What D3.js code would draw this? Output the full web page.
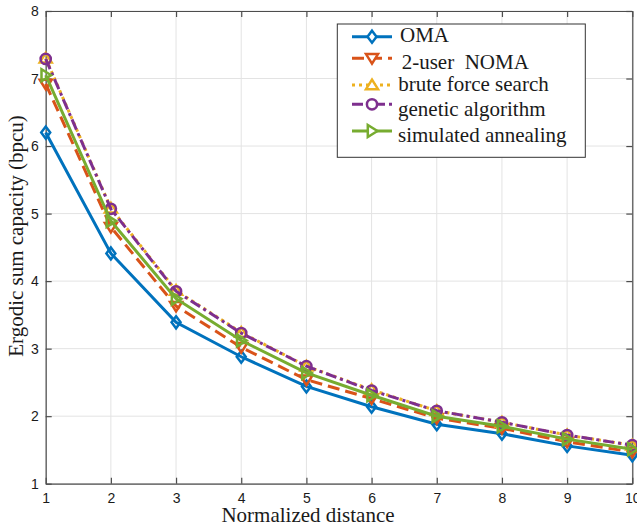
<!DOCTYPE html>
<html>
<head>
<meta charset="utf-8">
<script src="https://cdnjs.cloudflare.com/ajax/libs/d3/7.8.5/d3.min.js"></script>
<style>
  body { margin: 0; background: #fff; }
  svg { display: block; }
</style>
</head>
<body>
<div id="chart"></div>
<script>
// x values (normalized distance)
var distance = [1, 2, 3, 4, 5, 6, 7, 8, 9, 10];

// ergodic sum capacity, bpcu
var oma   = [6.20, 4.41, 3.39, 2.88, 2.44, 2.14, 1.88, 1.74, 1.56, 1.42];
var noma  = [6.92, 4.80, 3.63, 3.02, 2.54, 2.26, 1.97, 1.82, 1.62, 1.47];
var brute = [7.30, 5.08, 3.86, 3.24, 2.74, 2.39, 2.08, 1.91, 1.72, 1.57];
var ga    = [7.29, 5.07, 3.85, 3.23, 2.74, 2.38, 2.08, 1.91, 1.72, 1.57];
var sa    = [7.05, 4.89, 3.74, 3.12, 2.64, 2.31, 2.00, 1.85, 1.66, 1.51];

var names = ["OMA", "2-user  NOMA", "brute force search", "genetic algorithm", "simulated annealing"];
var xTicks = [1, 2, 3, 4, 5, 6, 7, 8, 9, 10];
var yTicks = [1, 2, 3, 4, 5, 6, 7, 8];

// matlab default colours + styles
var series = [
  {name: names[0], values: oma,   color: "#0072BD", dash: null,         marker: "diamond"},
  {name: names[1], values: noma,  color: "#D95319", dash: "12,6",       marker: "down"},
  {name: names[2], values: brute, color: "#EDB120", dash: "3,4",        marker: "up"},
  {name: names[3], values: ga,    color: "#7E2F8E", dash: "11,4,3,4",   marker: "circle"},
  {name: names[4], values: sa,    color: "#77AC30", dash: null,         marker: "right"}
];

var W = 637, H = 527;
// plot box edges (don't call these top/left, window.top is read only)
var pL = 45.7, pR = 632.3, pT = 11, pB = 483.7;

var svg = d3.select("#chart").append("svg")
  .attr("width", W)
  .attr("height", H);

var x = d3.scaleLinear().domain([1, 10]).range([pL, pR]);
var y = d3.scaleLinear().domain([1, 8]).range([pB, pT]);

// grid
svg.append("g").selectAll("line").data(xTicks).enter().append("line")
  .attr("x1", d => x(d)).attr("x2", d => x(d))
  .attr("y1", pT).attr("y2", pB)
  .attr("stroke", "#e3e3e3").attr("stroke-width", 1);
svg.append("g").selectAll("line").data(yTicks).enter().append("line")
  .attr("x1", pL).attr("x2", pR)
  .attr("y1", d => y(d)).attr("y2", d => y(d))
  .attr("stroke", "#e3e3e3").attr("stroke-width", 1);

// axes, ticks point inward like matlab
var fmt = d3.format("d");
var xAxis = svg.append("g")
  .attr("transform", "translate(0," + pB + ")")
  .call(d3.axisBottom(x).tickValues(xTicks).tickFormat(fmt).tickSizeInner(-6).tickSizeOuter(0).tickPadding(9));
var xTop = svg.append("g")
  .attr("transform", "translate(0," + pT + ")")
  .call(d3.axisTop(x).tickValues(xTicks).tickSizeInner(-6).tickSizeOuter(0).tickFormat(""));
var yAxis = svg.append("g")
  .attr("transform", "translate(" + pL + ",0)")
  .call(d3.axisLeft(y).tickValues(yTicks).tickFormat(fmt).tickSizeInner(-6).tickSizeOuter(0).tickPadding(7));
var yRight = svg.append("g")
  .attr("transform", "translate(" + pR + ",0)")
  .call(d3.axisRight(y).tickValues(yTicks).tickSizeInner(-6).tickSizeOuter(0).tickFormat(""));

[xAxis, xTop, yAxis, yRight].forEach(function(g) {
  g.select(".domain").attr("stroke", "#4d4d4d").attr("stroke-width", 1.2);
  g.selectAll(".tick line").attr("stroke", "#4d4d4d").attr("stroke-width", 1.2);
  g.selectAll("text")
    .attr("font-family", "'Liberation Sans', Arial, sans-serif")
    .attr("font-size", 14)
    .attr("fill", "#1a1a1a");
});

// marker shapes, centred on 0,0
function markerPath(type, s) {
  if (type == "diamond") return "M0," + (-s) + "L" + (s*0.75) + ",0L0," + s + "L" + (-s*0.75) + ",0Z";
  if (type == "down") return "M" + (-s) + "," + (-s*0.7) + "L" + s + "," + (-s*0.7) + "L0," + (s*0.9) + "Z";
  if (type == "up") return "M" + (-s) + "," + (s*0.7) + "L" + s + "," + (s*0.7) + "L0," + (-s*0.9) + "Z";
  if (type == "right") return "M" + (-s*0.7) + "," + (-s) + "L" + (-s*0.7) + "," + s + "L" + (s*0.9) + ",0Z";
  return d3.arc()({innerRadius: 0, outerRadius: s*0.85, startAngle: 0, endAngle: 2*Math.PI});
}

var line = d3.line()
  .x((d, i) => x(distance[i]))
  .y(d => y(d));

var plot = svg.append("g");

series.forEach(function(s) {
  var g = plot.append("g");
  g.append("path")
    .attr("d", line(s.values))
    .attr("fill", "none")
    .attr("stroke", s.color)
    .attr("stroke-width", 3)
    .attr("stroke-dasharray", s.dash);
  g.selectAll("path.mk").data(s.values).enter().append("path")
    .attr("class", "mk")
    .attr("transform", (d, i) => "translate(" + x(distance[i]) + "," + y(d) + ")")
    .attr("d", markerPath(s.marker, 6))
    .attr("fill", "none")
    .attr("stroke", s.color)
    .attr("stroke-width", 2.5);
});

// axis labels
svg.append("text")
  .attr("x", 308).attr("y", 522)
  .attr("text-anchor", "middle")
  .attr("font-family", "'Liberation Serif', 'Times New Roman', serif")
  .attr("font-size", 21)
  .attr("fill", "#1a1a1a")
  .text("Normalized distance");

svg.append("text")
  .attr("transform", "translate(23,236) rotate(-90)")
  .attr("text-anchor", "middle")
  .attr("font-family", "'Liberation Serif', 'Times New Roman', serif")
  .attr("font-size", 21)
  .attr("fill", "#1a1a1a")
  .text("Ergodic sum capacity (bpcu)");

// legend (rows are not evenly spaced in the original)
var legLine = [36.7, 58.3, 85, 104.3, 131];
var legText = [42.3, 69.3, 91, 115.5, 141.7];
var legX = [400, 401.7, 398.3, 398, 398];

var leg = svg.append("g");
leg.append("rect")
  .attr("x", 337.3).attr("y", 24)
  .attr("width", 248).attr("height", 133.3)
  .attr("fill", "#fff")
  .attr("stroke", "#333").attr("stroke-width", 1);

series.forEach(function(s, i) {
  leg.append("line")
    .attr("x1", 352).attr("x2", 392)
    .attr("y1", legLine[i]).attr("y2", legLine[i])
    .attr("stroke", s.color)
    .attr("stroke-width", 3)
    .attr("stroke-dasharray", s.dash);
  leg.append("path")
    .attr("transform", "translate(372," + legLine[i] + ")")
    .attr("d", markerPath(s.marker, 6))
    .attr("fill", "#fff")
    .attr("stroke", s.color)
    .attr("stroke-width", 2.5);
  leg.append("text")
    .attr("x", legX[i]).attr("y", legText[i])
    .attr("font-family", "'Liberation Serif', 'Times New Roman', serif")
    .attr("font-size", 21)
    .attr("fill", "#1a1a1a")
    .attr("xml:space", "preserve")
    .style("white-space", "pre")
    .text(s.name);
});
</script>
</body>
</html>
